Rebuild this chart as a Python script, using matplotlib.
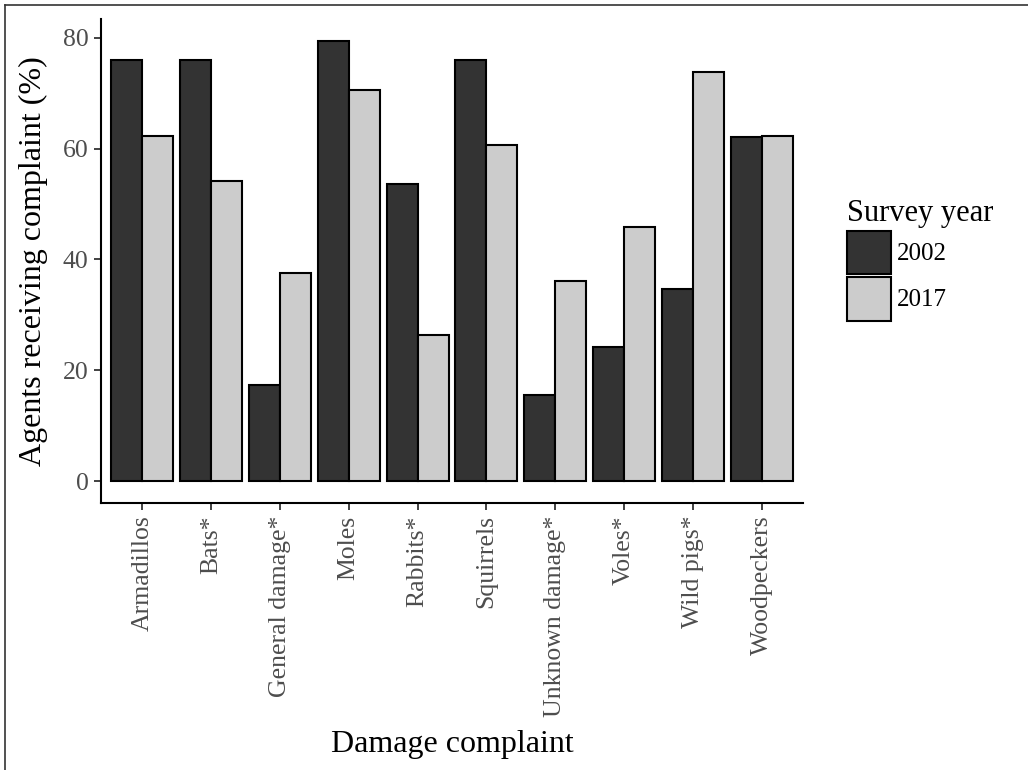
import numpy as np
import matplotlib
matplotlib.use('Agg')
import matplotlib.pyplot as plt
from matplotlib.lines import Line2D

# data
complaints = ['Armadillos', 'Bats*', 'General damage*', 'Moles', 'Rabbits*',
              'Squirrels', 'Unknown damage*', 'Voles*', 'Wild pigs*', 'Woodpeckers']
pct_2002 = [76.0, 76.0, 17.3, 79.4, 53.6, 76.0, 15.6, 24.2, 34.7, 62.1]
pct_2017 = [62.3, 54.1, 37.5, 70.5, 26.3, 60.7, 36.1, 45.9, 73.8, 62.3]
years = ['2002', '2017']
yticks = [0, 20, 40, 60, 80]

plt.rcParams['font.family'] = ['Liberation Serif', 'DejaVu Serif']

fig = plt.figure(figsize=(10.28, 7.7), dpi=100)
ax = fig.add_axes([101/1028, 1-503/770, 702/1028, 484/770])

x = np.arange(len(complaints))
w = 0.45
b1 = ax.bar(x - w/2, pct_2002, w, color='#333333', edgecolor='black', linewidth=1.5, label=years[0])
b2 = ax.bar(x + w/2, pct_2017, w, color='#cccccc', edgecolor='black', linewidth=1.5, label=years[1])

ax.set_xlim(-0.6, len(complaints) - 0.4)
ax.set_ylim(-3.97, 83.37)
ax.set_yticks(yticks)
ax.set_xticks(x)
ax.set_xticklabels(complaints, rotation=90, ha='center', va='top')

for s in ['top', 'right']:
    ax.spines[s].set_visible(False)
for s in ['left', 'bottom']:
    ax.spines[s].set_linewidth(1.5)
    ax.spines[s].set_color('black')

ax.tick_params(axis='both', length=5, width=1.3, color='#333333',
               labelsize=18.5, labelcolor='#4d4d4d', pad=4)

ax.set_xlabel('Damage complaint', fontsize=23)
ax.set_ylabel('Agents receiving complaint (%)', fontsize=23)
ax.xaxis.set_label_coords(0.5, -0.468)
ax.yaxis.set_label_coords(-0.075, 0.5)

leg = fig.legend(handles=[b1, b2], labels=years, title='Survey year',
                 loc='upper left', bbox_to_anchor=(847/1028, 1-199/770),
                 frameon=False, fontsize=18, title_fontsize=22,
                 handlelength=1.76, handleheight=2.32, handletextpad=0.24,
                 labelspacing=0.1, borderpad=0, borderaxespad=0, alignment='left')

# thin frame on the top and left edges, as in the reference
fig.add_artist(Line2D([5/1028, 5/1028], [0, 1-5/770], color='#333333', linewidth=1.2))
fig.add_artist(Line2D([5/1028, 1], [1-5/770, 1-5/770], color='#333333', linewidth=1.2))

fig.savefig('out.png', dpi=100)
